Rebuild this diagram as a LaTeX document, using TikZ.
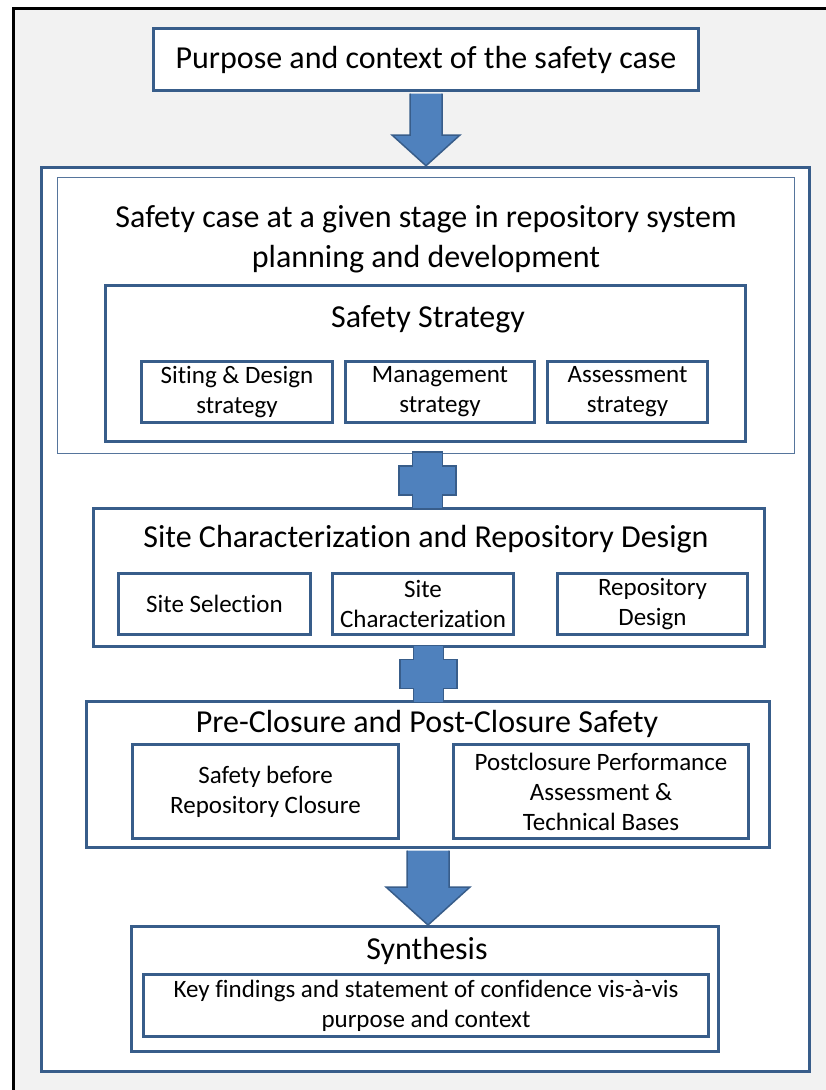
\documentclass[tikz,border=0pt]{standalone}
\usepackage{fontspec}
\setmainfont{Carlito}[Ligatures=NoCommon]
\usetikzlibrary{calc}
\definecolor{boxedge}{RGB}{56,93,138}
\definecolor{arrowfill}{RGB}{79,129,189}
\definecolor{pagegray}{RGB}{242,242,242}

\begin{document}
\begin{tikzpicture}
 [x=1pt,y=-1pt,
  heavy box/.style={rectangle,draw=boxedge,line width=3pt,fill=white,inner sep=0pt},
  thin box/.style={rectangle,draw=boxedge!85,line width=1.2pt,fill=white,inner sep=0pt},
  title text/.style={align=center,inner sep=0pt,font=\fontsize{32}{40}\selectfont},
  item text/.style={align=center,font=\fontsize{25}{30}\selectfont},
  block arrow/.style={draw=boxedge,line width=1.5pt,fill=arrowfill,line join=miter}]

 \useasboundingbox (0,0) rectangle (825,1090);
 \draw[line width=3.5pt,fill=pagegray] (13.5,8.5) rectangle (870,1130);

 % top box and the main frame
 \node[heavy box,title text,minimum width=545,minimum height=62] (purpose) at (426,59.5) {Purpose and context of the safety case};
 \node[heavy box,line width=3.5pt,minimum width=768,minimum height=904] (case) at (425.5,619.5) {};

 \draw[block arrow]
   ($(purpose.south)+(-16,1.5)$) -- ($(purpose.south)+(-16,43)$) -- ($(purpose.south)+(-34,43)$)
   -- (purpose.south |- case.north) -- ($(purpose.south)+(34,43)$) -- ($(purpose.south)+(16,43)$)
   -- ($(purpose.south)+(16,1.5)$);

 % stage of the safety case
 \node[thin box,minimum width=737,minimum height=276] (stage) at (426,315.5) {};
 \node[title text] (stagetitle) at (426,239) {Safety case at a given stage in repository system\\planning and development};

 \node[heavy box,minimum width=640,minimum height=156] (strategy) at (425.5,363.5) {};
 \node[title text] (strategytitle) at (428,319) {Safety Strategy};
 \node[heavy box,item text,minimum width=191,minimum height=61] (siting) at (237,392) {Siting \& Design\\strategy};
 \node[heavy box,item text,minimum width=189,minimum height=61] (management) at (440,392) {Management\\strategy};
 \node[heavy box,item text,minimum width=160,minimum height=61] (assessment) at (627.5,392) {Assessment\\strategy};

 % site characterization and design
 \node[heavy box,minimum width=671,minimum height=138] (sitechar) at (429,577.5) {};
 \node[title text] (sitechartitle) at (426,539) {Site Characterization and Repository Design};
 \node[heavy box,item text,minimum width=192,minimum height=61] (selection) at (214.5,604) {Site Selection};
 \node[heavy box,item text,minimum width=181,minimum height=61] (characterization) at (423,604) {Site\\Characterization};
 \node[heavy box,item text,minimum width=190,minimum height=61] (design) at (652.5,604) {Repository\\Design};

 % pre- and post-closure safety
 \node[heavy box,minimum width=683,minimum height=146] (closure) at (428,774.5) {};
 \node[title text] (closuretitle) at (427,724) {Pre-Closure and Post-Closure Safety};
 \node[heavy box,item text,minimum width=266,minimum height=94] (preclosure) at (265.5,791.5) {Safety before\\Repository Closure};
 \node[heavy box,item text,minimum width=295,minimum height=94] (postclosure) at (601,791.5) {Postclosure Performance\\Assessment \&\\Technical Bases};

 % synthesis
 \node[heavy box,minimum width=587,minimum height=125] (synthesis) at (425,989) {};
 \node[title text] (synthesistitle) at (427,951) {Synthesis};
 \node[heavy box,item text,minimum width=565,minimum height=62] (findings) at (426,1005.5) {Key findings and statement of confidence vis-à-vis\\purpose and context};

 % plus joints
 \coordinate (jointA) at ($(stage.south)!0.5!(sitechar.north)$);
 \coordinate (jointB) at ($(sitechar.south)!0.5!(closure.north)$);
 \foreach \j in {jointA,jointB}
   \draw[block arrow] ($(\j)+(-15,-28.5)$) -- ($(\j)+(15,-28.5)$) -- ($(\j)+(15,-14.5)$)
     -- ($(\j)+(28.5,-14.5)$) -- ($(\j)+(28.5,14.5)$) -- ($(\j)+(15,14.5)$) -- ($(\j)+(15,28.5)$)
     -- ($(\j)+(-15,28.5)$) -- ($(\j)+(-15,14.5)$) -- ($(\j)+(-28.5,14.5)$) -- ($(\j)+(-28.5,-14.5)$)
     -- ($(\j)+(-15,-14.5)$) -- cycle;

 \draw[block arrow]
   ($(closure.south)+(-21,1.5)$) -- ($(closure.south)+(-21,38)$) -- ($(closure.south)+(-42,38)$)
   -- (closure.south |- synthesis.north) -- ($(closure.south)+(42,38)$) -- ($(closure.south)+(21,38)$)
   -- ($(closure.south)+(21,1.5)$);

\end{tikzpicture}
\end{document}
